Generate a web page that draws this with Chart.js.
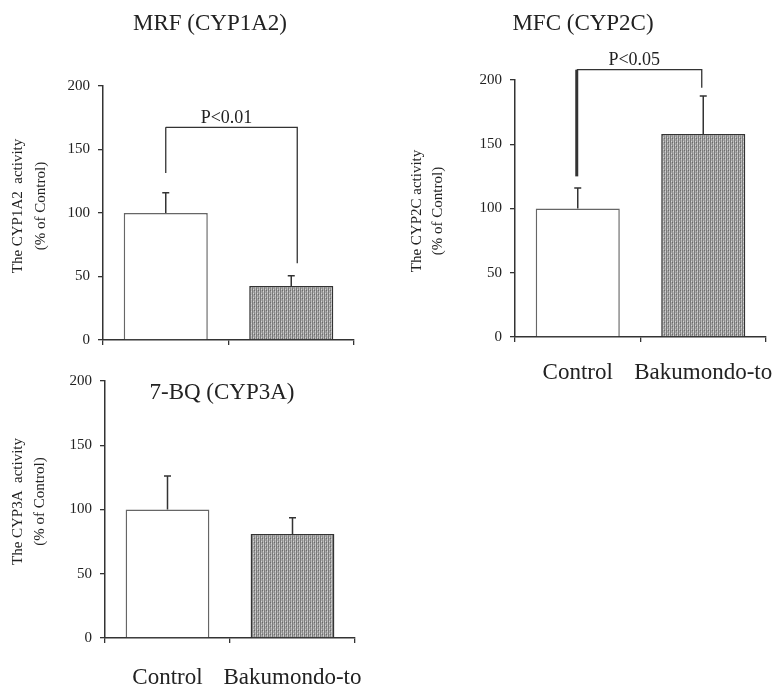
<!DOCTYPE html>
<html lang="en">
  <head>
    <meta charset="UTF-8" />
    <title>CYP activity (% of Control)</title>
    <script src="https://cdn.jsdelivr.net/npm/chart.js"></script>
    <style>
      body {
        margin: 0;
        background-color: #ffffff;
      }
      #wrap {
        position: relative;
        width: 783px;
        height: 687px;
      }
      canvas {
        position: absolute;
      }
    </style>
  </head>
  <body>
    <div id="wrap">
      <canvas id="cyp1a2" style="left: 0; top: 0" width="390" height="360"></canvas>
      <canvas id="cyp2c" style="left: 390px; top: 0" width="393" height="400"></canvas>
      <canvas id="cyp3a" style="left: 0; top: 360px" width="390" height="327"></canvas>
    </div>
    <script>
      const categories = ["Control", "Bakumondo-to"];
      const yTicks = [0, 50, 100, 150, 200];

      const cyp1a2Mean = [100, 42.5];
      const cyp1a2Err = [16, 8];
      const cyp2cMean = [100, 158];
      const cyp2cErr = [16, 29.5];
      const cyp3aMean = [100, 81];
      const cyp3aErr = [26, 12.5];

      // significance brackets: [top of bracket, left leg end, right leg end]
      const cyp1a2Bracket = [167.5, 131.5, 60.5];
      const cyp2cBracket = [208, 125, 194];

      const serif = "'Liberation Serif', 'Times New Roman', serif";
      const ink = "#222";

      // grey stippled fill for the Bakumondo-to bars
      function makeStipple() {
        const c = document.createElement("canvas");
        c.width = 4;
        c.height = 4;
        const g = c.getContext("2d");
        ["#7a7a7a", "#ababab", "#8e8e8e", "#b9b9b9"].forEach((col, i) => {
          g.fillStyle = col;
          g.fillRect(i, 0, 1, 4);
        });
        g.fillStyle = "#d2d2d2";
        g.fillRect(1, 1, 1, 1);
        g.fillRect(3, 3, 1, 1);
        g.fillStyle = "#6a6a6a";
        g.fillRect(2, 2, 1, 1);
        return g.createPattern(c, "repeat");
      }
      const stipple = makeStipple();

      const extras = {
        id: "extras",
        afterDatasetsDraw(chart, args, o) {
          const ctx = chart.ctx;
          const y = chart.scales.y;
          const meta = chart.getDatasetMeta(0);
          const mean = chart.data.datasets[0].data;
          ctx.save();
          ctx.strokeStyle = "#333";
          ctx.lineWidth = 1.5;

          // error bars (upper only)
          o.err.forEach((e, i) => {
            const bar = meta.data[i];
            const top = y.getPixelForValue(mean[i] + e);
            ctx.beginPath();
            ctx.moveTo(bar.x, bar.y);
            ctx.lineTo(bar.x, top);
            ctx.moveTo(bar.x - 3.5, top);
            ctx.lineTo(bar.x + 3.5, top);
            ctx.stroke();
          });

          if (o.bracket) {
            const b = o.bracket;
            const x0 = meta.data[0].x + o.legShift[0];
            const x1 = meta.data[1].x + o.legShift[1];
            const yb = y.getPixelForValue(b[0]);
            ctx.lineWidth = 1.3;
            ctx.beginPath();
            ctx.moveTo(x1, y.getPixelForValue(b[2]));
            ctx.lineTo(x1, yb);
            ctx.lineTo(x0, yb);
            ctx.stroke();
            ctx.lineWidth = o.leftLegWidth;
            ctx.beginPath();
            ctx.moveTo(x0, yb);
            ctx.lineTo(x0, y.getPixelForValue(b[1]));
            ctx.stroke();

            ctx.fillStyle = ink;
            ctx.font = "18px " + serif;
            ctx.textAlign = "center";
            ctx.textBaseline = "middle";
            ctx.fillText(o.pLabel, (x0 + x1) / 2 - 5, yb - 9);
          }

          // panel title
          ctx.fillStyle = ink;
          ctx.font = "23px " + serif;
          ctx.textAlign = "center";
          ctx.textBaseline = "middle";
          ctx.fillText(o.title, o.titleX, o.titleY);

          // rotated y-axis caption
          ctx.font = "15px " + serif;
          o.yTitle.forEach((line, i) => {
            ctx.save();
            ctx.translate(o.yTitleX[i], o.yTitleY);
            ctx.rotate(-Math.PI / 2);
            ctx.fillText(line, 0, 0);
            ctx.restore();
          });
          ctx.restore();
        },
      };

      function makePanel(id, mean, p) {
        const ctx = document.getElementById(id).getContext("2d");
        return new Chart(ctx, {
          type: "bar",
          data: {
            labels: categories,
            datasets: [
              {
                data: mean,
                backgroundColor: ["#ffffff", stipple],
                borderColor: ["#666666", "#333333"],
                borderWidth: 1.5,
                barPercentage: 0.67,
                categoryPercentage: 1,
              },
            ],
          },
          options: {
            responsive: false,
            animation: false,
            layout: { padding: p.padding },
            plugins: {
              legend: { display: false },
              tooltip: { enabled: false },
              extras: p.extras,
            },
            scales: {
              x: {
                afterFit: (s) => {
                  s.height = p.xHeight;
                  // labels may overhang the plot edge, as in the original
                  s.paddingLeft = 0;
                  s.paddingRight = 0;
                },
                grid: {
                  offset: true,
                  drawOnChartArea: false,
                  tickLength: 5,
                  color: "#333",
                  lineWidth: 1.3,
                },
                border: { color: "#333", width: 1.5 },
                ticks: {
                  display: p.showX,
                  autoSkip: false,
                  color: ink,
                  padding: p.xPad,
                  maxRotation: 0,
                  font: { family: serif, size: 23 },
                },
              },
              y: {
                min: 0,
                max: 200,
                afterFit: (s) => {
                  s.width = p.yWidth;
                },
                afterBuildTicks: (s) => {
                  s.ticks = yTicks.map((v) => ({ value: v }));
                },
                grid: {
                  drawOnChartArea: false,
                  tickLength: 5,
                  color: "#333",
                  lineWidth: 1.3,
                },
                border: { color: "#333", width: 1.5 },
                ticks: {
                  color: ink,
                  padding: 8,
                  font: { family: serif, size: 15 },
                },
              },
            },
          },
          plugins: [extras],
        });
      }

      makePanel("cyp1a2", cyp1a2Mean, {
        padding: { top: 86, right: 36, left: 0, bottom: 0 },
        yWidth: 103,
        xHeight: 20,
        showX: false,
        xPad: 0,
        extras: {
          err: cyp1a2Err,
          bracket: cyp1a2Bracket,
          legShift: [0, 6],
          leftLegWidth: 1.3,
          pLabel: "P<0.01",
          title: "MRF (CYP1A2)",
          titleX: 210,
          titleY: 24,
          yTitle: ["The CYP1A2  activity", "(% of Control)"],
          yTitleX: [18.5, 41.5],
          yTitleY: 206,
        },
      });

      makePanel("cyp2c", cyp2cMean, {
        padding: { top: 80, right: 17, left: 0, bottom: 0 },
        yWidth: 125,
        xHeight: 63,
        showX: true,
        xPad: 17,
        extras: {
          err: cyp2cErr,
          bracket: cyp2cBracket,
          legShift: [-1, -1.5],
          leftLegWidth: 3,
          pLabel: "P<0.05",
          title: "MFC (CYP2C)",
          titleX: 193,
          titleY: 24,
          yTitle: ["The CYP2C activity", "(% of Control)"],
          yTitleX: [26.7, 48.3],
          yTitleY: 211,
        },
      });

      makePanel("cyp3a", cyp3aMean, {
        padding: { top: 21, right: 35, left: 0, bottom: 0 },
        yWidth: 105,
        xHeight: 49,
        showX: true,
        xPad: 21,
        extras: {
          err: cyp3aErr,
          bracket: null,
          legShift: [0, 0],
          leftLegWidth: 1.3,
          pLabel: "",
          title: "7-BQ (CYP3A)",
          titleX: 222,
          titleY: 33,
          yTitle: ["The CYP3A  activity", "(% of Control)"],
          yTitleX: [18, 40],
          yTitleY: 141.5,
        },
      });
    </script>
  </body>
</html>
